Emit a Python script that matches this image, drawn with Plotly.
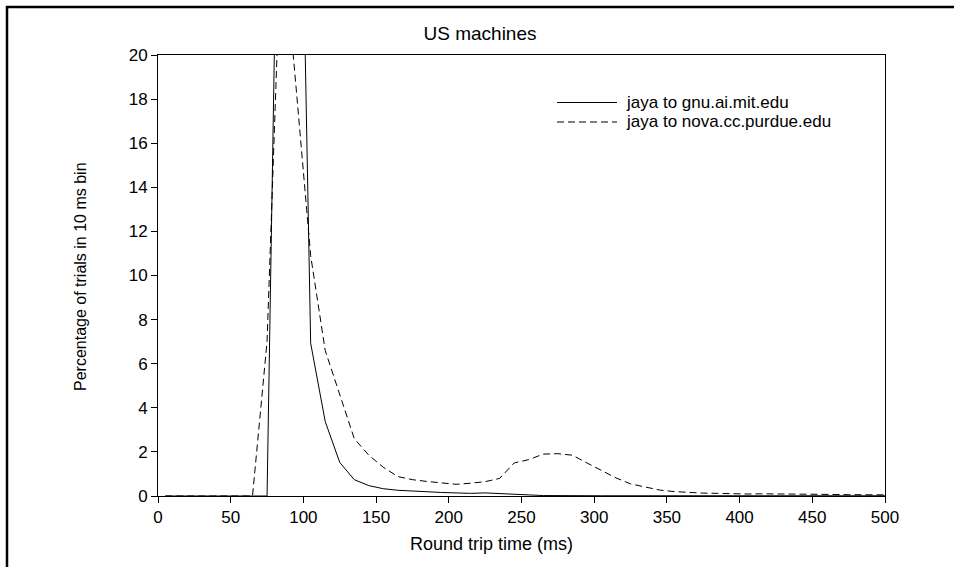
import plotly.graph_objects as go

# bin centres (ms)
rtt_ms = [5 + 10 * i for i in range(51)]

gnu_pct = [0, 0, 0, 0, 0, 0, 0, 0, 40, 42,
           6.93, 3.38, 1.52, 0.74, 0.47, 0.33, 0.26, 0.22, 0.20, 0.16,
           0.14, 0.12, 0.14, 0.12, 0.10, 0.05, 0.02, 0.01, 0.01, 0.01,
           0.01, 0.01, 0.01, 0.01, 0.01, 0.01, 0.01, 0.01, 0.01, 0.01,
           0.01, 0.01, 0.01, 0.01, 0.01, 0.01, 0.01, 0.01, 0.01, 0.01,
           0.01]

purdue_pct = [0, 0, 0, 0, 0, 0, 0, 7, 26, 18.5,
              10.9, 6.6, 4.6, 2.6, 1.85, 1.3, 0.88, 0.74, 0.66, 0.60,
              0.53, 0.58, 0.65, 0.80, 1.50, 1.65, 1.90, 1.92, 1.85, 1.50,
              1.15, 0.82, 0.55, 0.40, 0.27, 0.20, 0.15, 0.13, 0.12, 0.10,
              0.09, 0.10, 0.10, 0.09, 0.08, 0.07, 0.07, 0.06, 0.06, 0.05,
              0.05]

series_names = ["jaya to gnu.ai.mit.edu", "jaya to nova.cc.purdue.edu"]
x_ticks = [0, 50, 100, 150, 200, 250, 300, 350, 400, 450, 500]
y_ticks = [0, 2, 4, 6, 8, 10, 12, 14, 16, 18, 20]
x_title = "Round trip time (ms)"
y_title = "Percentage of trials in 10 ms bin"

FONT = "Liberation Sans, Arial, sans-serif"
W, H = 954, 567
ML, MR, MT, MB = 158, 69, 55, 71
PW, PH = W - ML - MR, H - MT - MB


def px2paper(px, py):
    return (px - ML) / PW, (H - MB - py) / PH


fig = go.Figure()
fig.add_trace(go.Scatter(x=rtt_ms, y=gnu_pct, mode="lines", name=series_names[0],
                         line=dict(color="black", width=1), showlegend=False))
fig.add_trace(go.Scatter(x=rtt_ms, y=purdue_pct, mode="lines", name=series_names[1],
                         line=dict(color="black", width=1, dash="7px,4px"), showlegend=False))

# figure frame
fx0, fy1 = px2paper(7, 7)
fx1, fy0 = px2paper(970, 580)
fig.add_shape(type="rect", xref="paper", yref="paper", x0=fx0, x1=fx1, y0=fy0, y1=fy1,
              line=dict(color="black", width=2.5), layer="above")

# legend (custom, long line samples)
for i, (name, dash) in enumerate(zip(series_names, ["solid", "7px,4px"])):
    py = 102.5 + i * 19.5
    lx0, ly = px2paper(557, py)
    lx1, _ = px2paper(617, py)
    tx, _ = px2paper(625, py)
    fig.add_shape(type="line", xref="paper", yref="paper", x0=lx0, x1=lx1, y0=ly, y1=ly,
                  line=dict(color="black", width=1, dash=dash))
    fig.add_annotation(xref="paper", yref="paper", x=tx, y=ly, text=name, showarrow=False,
                       xanchor="left", yanchor="middle", borderpad=0,
                       font=dict(family=FONT, size=17, color="black"))

# axis titles
xtx, xty = px2paper(491, 544)
fig.add_annotation(xref="paper", yref="paper", x=xtx, y=xty, text=x_title, showarrow=False,
                   xanchor="center", yanchor="middle", font=dict(family=FONT, size=18, color="black"))
ytx, yty = px2paper(80, 277)
fig.add_annotation(xref="paper", yref="paper", x=ytx, y=yty, text=y_title, showarrow=False,
                   textangle=-90, xanchor="center", yanchor="middle",
                   font=dict(family=FONT, size=16, color="black"))

axis_common = dict(showline=True, mirror=True, linecolor="black", linewidth=1,
                   ticks="outside", ticklen=6, tickcolor="black", tickwidth=1,
                   showgrid=False, zeroline=False,
                   tickfont=dict(family=FONT, size=17, color="black"))

fig.update_layout(
    width=W, height=H,
    margin=dict(l=ML, r=MR, t=MT, b=MB),
    paper_bgcolor="white", plot_bgcolor="white",
    font=dict(family=FONT, size=17, color="black"),
    title=dict(text="US machines", x=480 / W, xanchor="center", y=1 - 33 / H, yanchor="middle",
               font=dict(family=FONT, size=19, color="black")),
    xaxis=dict(range=[0, 500], tickvals=x_ticks, **axis_common),
    yaxis=dict(range=[0, 20], tickvals=y_ticks, **axis_common),
)

fig.write_html("out.html")
